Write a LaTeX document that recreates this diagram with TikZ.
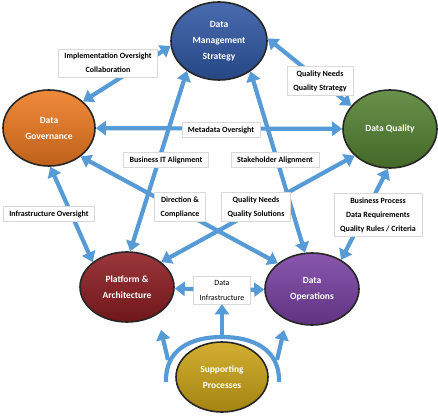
\documentclass[tikz,border=0pt]{standalone}
\usepackage{fontspec}
\setmainfont{Carlito}
\usetikzlibrary{arrows.meta,shapes.geometric}

\definecolor{dmsblue}{RGB}{48,88,165}
\definecolor{govorange}{RGB}{238,122,32}
\definecolor{dqgreen}{RGB}{84,130,50}
\definecolor{parred}{RGB}{140,28,32}
\definecolor{opspurple}{RGB}{120,64,162}
\definecolor{supgold}{RGB}{204,164,22}
\definecolor{arrblue}{RGB}{86,154,214}

\begin{document}
\begin{tikzpicture}[x=1pt, y=-1pt,
    hub/.style={ellipse, draw=black!85, line width=1.6pt, minimum width=94pt, minimum height=76pt, inner sep=0pt, align=center, text=white, font=\fontsize{9.5}{16}\selectfont\bfseries, top color=#1!88!white, bottom color=#1!80!black},
    lbl/.style={draw=black!15, fill=white, align=center, font=\fontsize{8}{14}\selectfont\bfseries, inner xsep=6pt, inner ysep=4pt},
    arr/.style={{Triangle[length=10pt,width=14pt]}-{Triangle[length=10pt,width=14pt]}, line width=4.2pt, draw=arrblue},
    one/.style={-{Triangle[length=10pt,width=14pt]}, line width=4.2pt, draw=arrblue},
    band/.style={line width=4.2pt, draw=arrblue}
]
\useasboundingbox (0,0) rectangle (438,417);

% the six areas
\node[hub=dmsblue, minimum width=96pt, minimum height=78pt] (DMS) at (219,41) {Data\\Management\\Strategy};
\node[hub=govorange, minimum width=92pt] (DG) at (49,128) {Data\\Governance};
\node[hub=dqgreen, minimum height=78pt] (DQ) at (390,129) {Data Quality};
\node[hub=parred, minimum height=70pt] (PA) at (127,287) {Platform \&\\Architecture};
\node[hub=opspurple, minimum height=72pt] (DO) at (312,289) {Data\\Operations};
\node[hub=supgold, minimum width=92pt, minimum height=70pt] (SP) at (222,377) {Supporting\\Processes};

% links between areas
\draw[arr] (DG.38) -- (DMS.186);
\draw[arr] (DMS.3) -- (DQ.149);
\draw[arr] (DG) -- (DQ);
\draw[arr] (DMS.223) -- (PA.85);
\draw[arr] (DMS.316) -- (DO.101);
\draw[arr] (DG.318) -- (DO.143);
\draw[arr] (DQ.217) -- (PA.36);
\draw[arr] (DG.272) -- (PA.144);
\draw[arr] (DQ.267) -- (DO.45);

% labels on the links
\node[lbl] (impl) at (108,63) {Implementation Oversight\\Collaboration};
\node[lbl] (qstrat) at (320,81) {Quality Needs\\Quality Strategy};
\node[lbl] (meta) at (221,130) {Metadata Oversight};
\node[lbl] (bizit) at (166,160) {Business IT Alignment};
\node[lbl] (stake) at (275,160) {Stakeholder Alignment};
\node[lbl] (dircomp) at (180,207) {Direction \&\\Compliance};
\node[lbl] (qsol) at (256,207) {Quality Needs\\Quality Solutions};
\node[lbl] (infov) at (49,214) {Infrastructure Oversight};
\node[lbl] (bproc) at (378,215) {Business Process\\Data Requirements\\Quality Rules / Criteria};
\node[lbl, font=\fontsize{8}{15}\selectfont] (dinfra) at (222,290) {Data\\Infrastructure};

\draw[one] (dinfra) -- (PA);
\draw[one] (dinfra) -- (DO);

% support band round the bottom
\coordinate (bandL) at (166,382);
\coordinate (bandT) at (222,337);
\coordinate (bandR) at (279,382);
\coordinate (footL) at (168,360);
\coordinate (footR) at (277,360);
\coordinate (tipL) at (161,330);
\coordinate (tipR) at (284,330);
\draw[band] (bandL) .. controls (165,350) and (190,337) .. (bandT) .. controls (254,337) and (280,350) .. (bandR);
\draw[one] (footL) -- (tipL);
\draw[one] (footR) -- (tipR);
\draw[one] (bandT) -- (dinfra.south);
\end{tikzpicture}
\end{document}
